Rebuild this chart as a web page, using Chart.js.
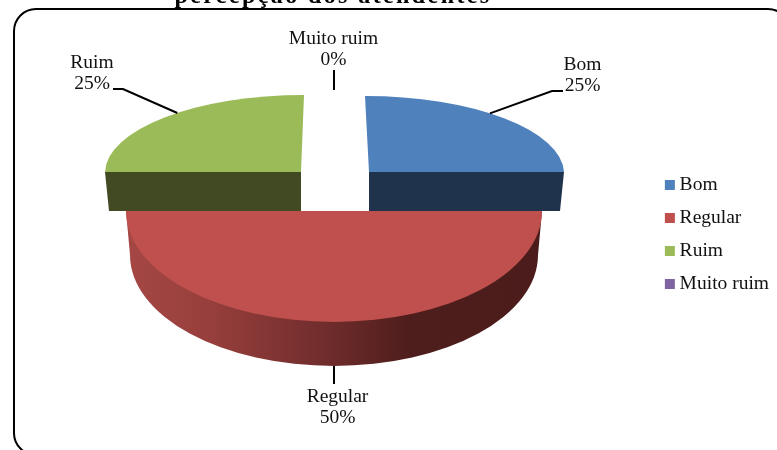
<!DOCTYPE html>
<html lang="pt">
<head>
<meta charset="utf-8">
<title>percepção dos atendentes</title>
<script src="https://cdn.jsdelivr.net/npm/chart.js@4"></script>
<style>html,body{margin:0;padding:0;background:#fff;overflow:hidden}canvas{display:block}</style>
</head>
<body>
<canvas id="c" width="777" height="450"></canvas>
<script>
const categories = ["Bom", "Regular", "Ruim", "Muito ruim"];
const percentages = [25, 50, 25, 0];
const sliceColors = ["#4f81bd", "#c0504d", "#9bbb59", "#8064a2"];
const chartTitle = "percepção dos atendentes";

const FONT = '"Liberation Serif", serif';
// Projection of each flat slice into the tilted 3D view
const views = [
  {cx: 369, cy: 172, rx: 195, ry: 76,  skew: -4, depth: 39, shrink: 4, face: "#1f334d"},
  {cx: 334, cy: 211, rx: 208, ry: 111, skew: 0,  depth: 44, shrink: 4},
  {cx: 301, cy: 172, rx: 196, ry: 77,  skew: 3,  depth: 39, shrink: 4, face: "#414a23"},
  {cx: 334, cy: 211, rx: 208, ry: 121, skew: 0,  depth: 0,  shrink: 0}
];
// Callouts: label centre, elbow, and anchor tweak along the slice edge (degrees)
const callouts = [
  {x: 582.5, y: 65, elbow: [[552, 91], [563, 91]], tweak: -5.5},
  {x: 337.5, y: 396.5, elbow: [[334, 384]], tweak: 0, onWall: true},
  {x: 92,  y: 63, elbow: [[123, 89], [113, 89]], tweak: 5},
  {x: 333.5, y: 39, elbow: [[334, 70]], tweak: 0}
];

function project(v, a) {           // a = clockwise from top, radians
  return {x: v.cx + v.rx * Math.sin(a) + v.skew * Math.cos(a),
          y: v.cy - v.ry * Math.cos(a)};
}
function drawSlice(ctx, el, v) {
  const R = el.outerRadius || 1;
  const sx = v.rx / R, sy = v.ry / R, c = -v.skew / R;
  ctx.save();
  ctx.transform(sx, 0, c, sy, v.cx - sx * el.x - c * el.y, v.cy - sy * el.y);
  el.draw(ctx);
  ctx.restore();
}

const view3d = {
  id: "view3d",
  beforeDraw(chart) {
    const ctx = chart.ctx;
    ctx.save();
    ctx.fillStyle = "#fff";
    ctx.fillRect(0, 0, chart.width, chart.height);
    ctx.fillStyle = "#000";
    ctx.font = "bold 24px " + FONT;
    ctx.letterSpacing = "2.4px";
    ctx.textAlign = "center";
    ctx.textBaseline = "alphabetic";
    ctx.fillText(chartTitle, 333, 3);
    ctx.letterSpacing = "0px";
    ctx.strokeStyle = "#000";
    ctx.lineWidth = 2;
    ctx.beginPath();
    ctx.roundRect(14, 9, 776, 446, 22);
    ctx.stroke();
    ctx.restore();
  },
  beforeDatasetDraw(chart, args) {
    const ctx = chart.ctx, arcs = args.meta.data;
    // Regular: curved wall, then its top face
    const rv = views[1];
    const wallRx = rv.rx - rv.shrink, yb = rv.cy + rv.depth;
    const g = ctx.createLinearGradient(rv.cx - rv.rx, 0, rv.cx + rv.rx, 0);
    g.addColorStop(0, "#a54745");
    g.addColorStop(0.2, "#973f3c");
    g.addColorStop(0.5, "#6d2b2b");
    g.addColorStop(0.68, "#4e1e1c");
    g.addColorStop(1, "#4b1c1b");
    ctx.save();
    ctx.fillStyle = g;
    ctx.beginPath();
    ctx.moveTo(rv.cx + rv.rx, rv.cy);
    ctx.lineTo(rv.cx + wallRx, yb);
    ctx.ellipse(rv.cx, yb, wallRx, rv.ry, 0, 0, Math.PI);
    ctx.lineTo(rv.cx - rv.rx, rv.cy);
    ctx.closePath();
    ctx.fill();
    ctx.restore();
    drawSlice(ctx, arcs[1], rv);
    // Back slices: top face then the straight cut face
    [0, 2].forEach(i => {
      const v = views[i], el = arcs[i];
      const side = i === 0 ? Math.PI / 2 : -Math.PI / 2;
      const p = project(v, side);
      const dir = Math.sign(p.x - v.cx);
      ctx.save();
      ctx.fillStyle = v.face;
      ctx.beginPath();
      ctx.moveTo(v.cx, v.cy);
      ctx.lineTo(p.x, p.y);
      ctx.lineTo(p.x - dir * v.shrink, p.y + v.depth);
      ctx.lineTo(v.cx, v.cy + v.depth);
      ctx.closePath();
      ctx.fill();
      ctx.restore();
      drawSlice(ctx, el, v);
    });
    return false;
  },
  afterDatasetsDraw(chart) {
    const ctx = chart.ctx, arcs = chart.getDatasetMeta(0).data;
    ctx.save();
    callouts.forEach((co, i) => {
      const el = arcs[i], v = views[i];
      const mid = (el.startAngle + el.endAngle) / 2 + Math.PI / 2 + co.tweak * Math.PI / 180;
      const p = project(v, percentages[i] === 0 ? 0 : mid);
      ctx.strokeStyle = "#000";
      ctx.lineWidth = 2;
      ctx.beginPath();
      ctx.moveTo(p.x, p.y + (co.onWall ? v.depth : 0));
      co.elbow.forEach(q => ctx.lineTo(q[0], q[1]));
      ctx.stroke();
      ctx.fillStyle = "#111";
      ctx.font = "19.5px " + FONT;
      ctx.textAlign = "center";
      ctx.textBaseline = "middle";
      ctx.fillText(categories[i], co.x, co.y);
      ctx.fillText(percentages[i] + "%", co.x, co.y + 21);
    });
    ctx.restore();
  }
};

new Chart(document.getElementById("c"), {
  type: "pie",
  data: {
    labels: categories,
    datasets: [{data: percentages, backgroundColor: sliceColors, borderWidth: 0}]
  },
  options: {
    responsive: false,
    animation: false,
    layout: {padding: {top: 19, right: -2, bottom: 0, left: 0}},
    plugins: {
      title: {display: false},
      tooltip: {enabled: false},
      legend: {
        position: "right",
        align: "center",
        labels: {
          usePointStyle: true,
          pointStyle: "rect",
          boxWidth: 0.01,
          boxHeight: 10,
          padding: 13.5,
          color: "#111",
          font: {family: FONT, size: 19.5}
        }
      }
    }
  },
  plugins: [view3d]
});
</script>
</body>
</html>
